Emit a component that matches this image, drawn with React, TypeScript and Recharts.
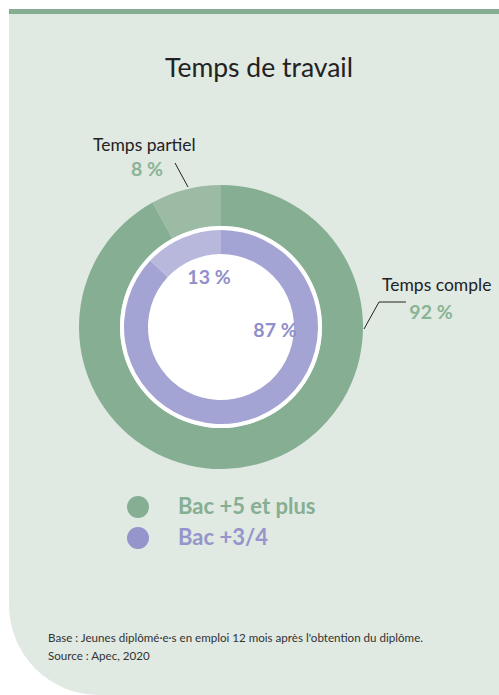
import { Cell, Pie, PieChart } from "recharts";

const categories = ["Temps complet", "Temps partiel"];
const categoryLabels = ["Temps comple", "Temps partiel"];
const levels = ["Bac +5 et plus", "Bac +3/4"];
const bac5Values = [92, 8];
const bac34Values = [87, 13];

const greenCells = ["#85ae93", "#9cbba5"];
const purpleCells = ["#a4a4d4", "#b8b8dc"];
const legendColors = ["#86ae93", "#9595cc"];
const FONT = "Lato, 'Open Sans', sans-serif";

const bac5 = categories.map((name, i) => ({ name, value: bac5Values[i] }));
const bac34 = categories.map((name, i) => ({ name, value: bac34Values[i] }));
const hole = [{ name: "hole", value: 1 }];

export default function App() {
  return (
    <div style={{ position: "absolute", left: 0, top: 0, width: 499, height: 695, background: "#fff", overflow: "hidden" }}>
      <div
        style={{
          position: "absolute",
          left: 9,
          top: 9,
          width: 490,
          height: 681,
          background: "#e0e9e2",
          borderTop: "5px solid #84ad92",
          borderBottomLeftRadius: 90,
        }}
      />
      <div style={{ position: "absolute", left: 0, top: 0 }}>
        <PieChart width={499} height={695} margin={{ top: 0, right: 0, bottom: 0, left: 0 }}>
          <Pie
            data={bac5}
            dataKey="value"
            cx={221}
            cy={327}
            innerRadius={101}
            outerRadius={142}
            startAngle={90}
            endAngle={-270}
            stroke="none"
            isAnimationActive={false}
          >
            {bac5.map((d, i) => (
              <Cell key={d.name} fill={greenCells[i]} />
            ))}
          </Pie>
          <Pie
            data={hole}
            dataKey="value"
            cx={221}
            cy={327}
            innerRadius={0}
            outerRadius={101}
            fill="#ffffff"
            stroke="none"
            isAnimationActive={false}
          />
          <Pie
            data={bac34}
            dataKey="value"
            cx={221}
            cy={327}
            innerRadius={73}
            outerRadius={97}
            startAngle={90}
            endAngle={-270}
            stroke="none"
            isAnimationActive={false}
          >
            {bac34.map((d, i) => (
              <Cell key={d.name} fill={purpleCells[i]} />
            ))}
          </Pie>
        </PieChart>
      </div>
      <svg width={499} height={695} style={{ position: "absolute", left: 0, top: 0 }} fontFamily={FONT}>
        <text x={259} y={77} textAnchor="middle" fontSize={26.5} fill="#222">
          Temps de travail
        </text>

        <text x={93} y={151} fontSize={17.5} fill="#222">{categoryLabels[1]}</text>
        <text x={147} y={176} textAnchor="middle" fontSize={19.5} fontWeight={700} fill="#8ab496">
          {bac5Values[1]} %
        </text>
        <line x1={175} y1={163} x2={188} y2={187} stroke="#222" strokeWidth={1} />

        <text x={382} y={291} fontSize={17.5} fill="#222">{categoryLabels[0]}</text>
        <text x={431} y={319} textAnchor="middle" fontSize={19.5} fontWeight={700} fill="#8ab496">
          {bac5Values[0]} %
        </text>
        <polyline points="364,329 379,302 406,302" fill="none" stroke="#222" strokeWidth={1} />

        <text x={209} y={284} textAnchor="middle" fontSize={19.5} fontWeight={700} fill="#8f8fc9">
          {bac34Values[1]} %
        </text>
        <text x={275} y={337} textAnchor="middle" fontSize={19.5} fontWeight={700} fill="#8f8fc9">
          {bac34Values[0]} %
        </text>

        {levels.map((lv, i) => (
          <g key={lv}>
            <circle cx={138} cy={507 + i * 31} r={11} fill={legendColors[i]} />
            <text x={178} y={514 + i * 31} fontSize={22} fontWeight={700} fill={legendColors[i]}>
              {lv}
            </text>
          </g>
        ))}

        <text x={48} y={642} fontSize={11.6} fill="#333">
          Base : Jeunes diplômé·e·s en emploi 12 mois après l'obtention du diplôme.
        </text>
        <text x={48} y={660} fontSize={11.6} fill="#333">
          Source : Apec, 2020
        </text>
      </svg>
    </div>
  );
}
